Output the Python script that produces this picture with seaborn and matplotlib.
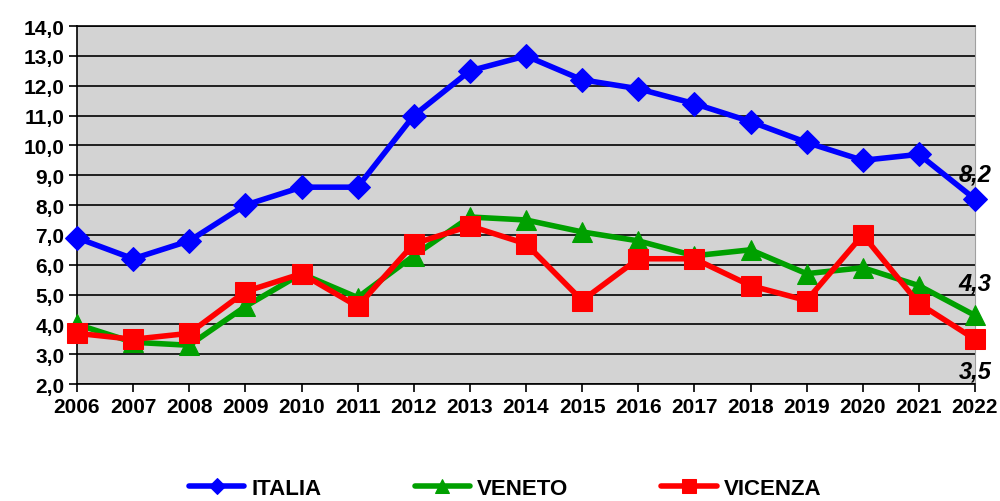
import pandas as pd
import matplotlib.pyplot as plt
import seaborn as sns

# =========================
# Data
# =========================

years = list(range(2006, 2023))

italia = [6.9, 6.2, 6.8, 8.0, 8.6, 8.6, 11.0, 12.5, 13.0, 12.2, 11.9, 11.4, 10.8, 10.1, 9.5, 9.7, 8.2]
veneto = [4.0, 3.4, 3.3, 4.6, 5.7, 4.9, 6.3, 7.6, 7.5, 7.1, 6.8, 6.3, 6.5, 5.7, 5.9, 5.3, 4.3]
vicenza = [3.7, 3.5, 3.7, 5.1, 5.7, 4.6, 6.7, 7.3, 6.7, 4.8, 6.2, 6.2, 5.3, 4.8, 7.0, 4.7, 3.5]

series_names = ["ITALIA", "VENETO", "VICENZA"]
colors = ["#0000FF", "#00A000", "#FF0000"]
markers = ["D", "^", "s"]
marker_sizes = [12, 14, 15]

end_labels = ["8,2", "4,3", "3,5"]
end_offsets = [0.85, 1.1, -1.05]

df = pd.DataFrame({
    "year": years * 3,
    "value": italia + veneto + vicenza,
    "serie": ["ITALIA"] * len(years) + ["VENETO"] * len(years) + ["VICENZA"] * len(years),
})

sns.set_style("white")
plt.rcParams["font.family"] = ["Liberation Sans", "DejaVu Sans"]
plt.rcParams["text.color"] = "black"
plt.rcParams["xtick.color"] = "black"
plt.rcParams["ytick.color"] = "black"
plt.rcParams["axes.labelcolor"] = "black"

fig = plt.figure(figsize=(10, 5.02), dpi=100)
ax = fig.add_axes([0.077, 0.233, 0.898, 0.713])
ax.set_facecolor("#D3D3D3")

# =========================
# Lines
# =========================

for name, col, mk, ms in zip(series_names, colors, markers, marker_sizes):
    sns.lineplot(
        data=df[df.serie == name],
        x="year",
        y="value",
        color=col,
        marker=mk,
        markersize=ms,
        markeredgecolor=col,
        linewidth=4,
        label=name,
        ax=ax,
        clip_on=False,
        zorder=3,
    )

# end labels
last_vals = [italia[-1], veneto[-1], vicenza[-1]]
for txt, v, off in zip(end_labels, last_vals, end_offsets):
    ax.text(years[-1], v + off, txt, fontsize=17, fontweight="bold",
            fontstyle="italic", ha="center", va="center", color="black", zorder=5)

# =========================
# Axes
# =========================

ax.set_xlim(2006, 2022)
ax.set_ylim(2, 14)
ax.set_xticks(years)
ax.set_xticklabels([str(y) for y in years], fontsize=15, fontweight="bold")
yt = list(range(2, 15))
ax.set_yticks(yt)
ax.set_yticklabels([f"{v},0" for v in yt], fontsize=15, fontweight="bold")
ax.set_xlabel("")
ax.set_ylabel("")

ax.yaxis.grid(True, color="black", linewidth=1.2)
ax.xaxis.grid(False)
ax.set_axisbelow(True)
ax.tick_params(axis="both", length=6, width=1.2, colors="black", direction="out", pad=3,
               bottom=True, left=True)

for side in ["left", "bottom", "top"]:
    ax.spines[side].set_color("black")
    ax.spines[side].set_linewidth(1.2)
ax.spines["right"].set_color("#A0A0A0")

ax.get_legend().remove()
handles, labels = ax.get_legend_handles_labels()
fig.legend(
    handles,
    labels,
    loc="lower center",
    bbox_to_anchor=(0.505, -0.035),
    ncol=3,
    frameon=False,
    handlelength=2.5,
    handletextpad=0.3,
    columnspacing=4.2,
    prop={"family": ["Liberation Sans Narrow", "Liberation Sans"], "weight": "bold", "size": 16},
    labelcolor="black",
    markerscale=0.7,
)

plt.savefig("out.png", dpi=100)
